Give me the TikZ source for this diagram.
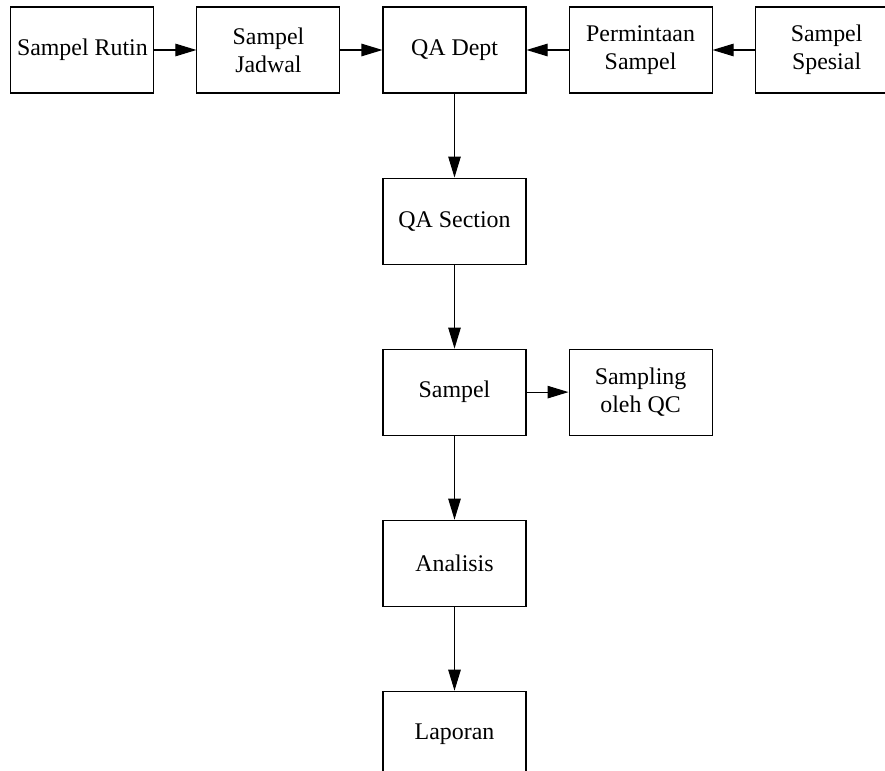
\documentclass[tikz,border=0pt]{standalone}
\usepackage{fontspec}
\setmainfont{Liberation Serif}
\usetikzlibrary{positioning,arrows.meta}
\tikzset{box node/.style={rectangle,draw,line width=0.6pt,minimum width=2.86cm,minimum height=1.72cm,
            align=center,inner sep=0pt,font=\fontsize{13.6}{16}\selectfont},
            }

\begin{document}
\begin{tikzpicture}[node distance=1.68cm and 0.84cm]
    \useasboundingbox (0,0) rectangle (17.7,-15.42);
    \clip (0,0) rectangle (17.7,-15.42);
    \node[box node] (3) at (9.09,-1.0) {QA Dept};
    \node[box node] (2) [left = of 3]  {Sampel\\Jadwal};
    \node[box node] (1) [left = of 2]  {Sampel Rutin};
    \node[box node] (4) [right = of 3] {Permintaan\\Sampel};
    \node[box node] (5) [right = of 4] {Sampel\\Spesial};
    \node[box node] (6) [below = of 3] {QA Section};
    \node[box node] (7) [below = of 6] {Sampel};
    \node[box node] (8) [right = of 7] {Sampling\\oleh QC};
    \node[box node] (9) [below = of 7] {Analisis};
    \node[box node] (10) [below = of 9] {Laporan};

    \path[draw,line width=0.6pt,-{Triangle[length=0.42cm,width=0.25cm]}]
    (1) edge node {} (2)
    (2) edge node {} (3)
    (4) edge node {} (3)
    (5) edge node {} (4)
    (3) edge node {} (6)
    (6) edge node {} (7)
    (7) edge node {} (8)
    (7) edge node {} (9)
    (9) edge node {} (10);
    %%

\end{tikzpicture}
\end{document}
